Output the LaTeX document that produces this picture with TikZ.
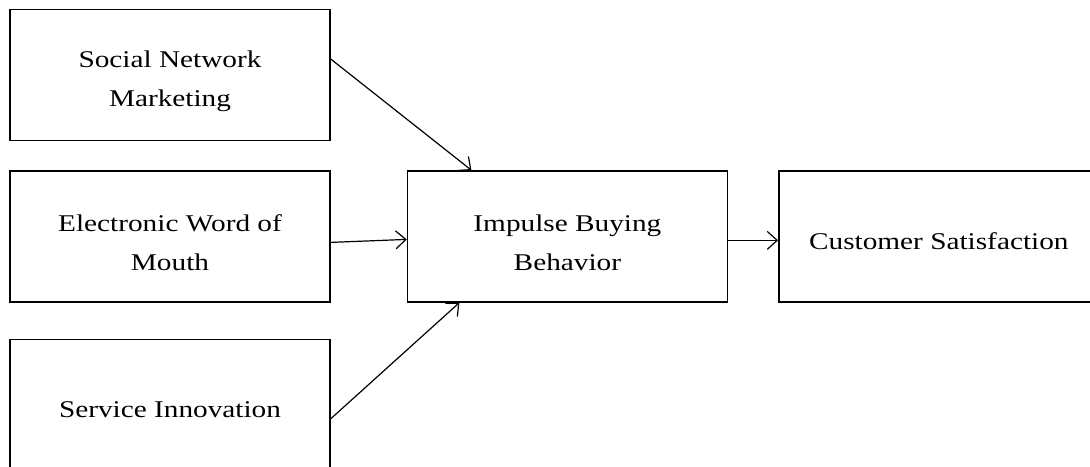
\documentclass[tikz,border=0pt]{standalone}
\usepackage{fontspec}
\setmainfont{Liberation Serif}[FakeStretch=1.22]
\usetikzlibrary{arrows.meta, positioning}

\newcommand{\boxstrut}{\rule{0pt}{15pt}}

\begin{document}
\begin{tikzpicture}[
    x=0.5pt, y=-0.5pt,
    box/.style={rectangle, draw, line width=0.7pt, minimum width=160pt, minimum height=65.5pt, align=center, inner sep=0pt, font=\fontsize{12}{19.5}\selectfont},
    arrow/.style={-{Straight Barb[length=5pt,width=9pt]}, line width=0.6pt}
]
\useasboundingbox (0,0) rectangle (1090,466);
\clip (0,0) rectangle (1090,466);

% Antecedents
\node[box] (snm) at (170,75) {\boxstrut Social Network\\Marketing};
\node[box, below=14.5pt of snm] (ewom) {\boxstrut Electronic Word of\\Mouth};
\node[box, below=18pt of ewom] (si) {\rule{0pt}{13pt}Service Innovation};

% Mediator and outcome
\node[box, right=38pt of ewom] (ibb) {\boxstrut Impulse Buying\\Behavior};
\node[box, right=25pt of ibb] (cs) {\rule{0pt}{13pt}Customer Satisfaction};

% Arrows
\draw[arrow] ([yshift=8pt]snm.east) -- ([xshift=-48pt]ibb.north);
\draw[arrow] ([yshift=-3pt]ewom.east) -- ([yshift=-1.5pt]ibb.west);
\draw[arrow] ([yshift=-7pt]si.east) -- ([xshift=-54pt]ibb.south);
\draw[arrow] ([yshift=-2pt]ibb.east) -- ([yshift=-2pt]cs.west);

\end{tikzpicture}
\end{document}
